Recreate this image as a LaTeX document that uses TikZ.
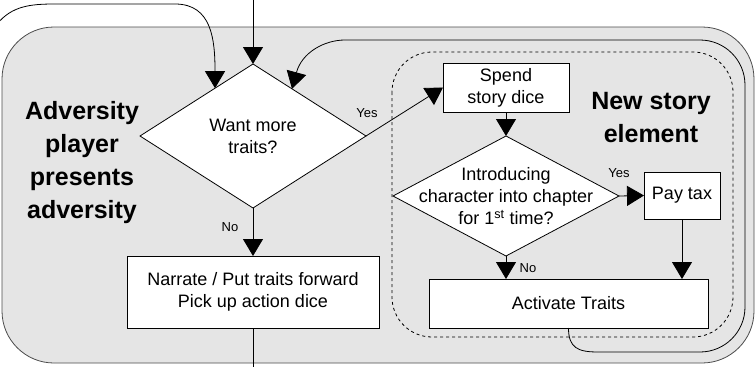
\documentclass[tikz,border=0pt]{standalone}
\usepackage{fontspec}
\setmainfont{Liberation Sans}
\usetikzlibrary{shapes.geometric,arrows.meta,calc}
\tikzset{
  flowbox/.style={draw,fill=white,inner sep=0pt,outer sep=0pt,align=center,font=\fontsize{18}{22}\selectfont},
  decision/.style={draw,fill=white,diamond,inner sep=0pt,outer sep=0pt},
  decisiontext/.style={align=center,font=\fontsize{18}{22}\selectfont},
  flowarrow/.style={-{Triangle[width=20pt,length=17pt]}},
  answer/.style={font=\fontsize{13}{15}\selectfont},
  heading/.style={align=center,font=\fontsize{25}{33}\selectfont\bfseries}
}
\begin{document}
\begin{tikzpicture}[x=1pt,y=-1pt,line width=0.8pt]
\useasboundingbox (0,0) rectangle (756,367);
% grey area and dashed story element area
\draw[fill=gray!20,draw=black!70,rounded corners=52pt] (2,27) rectangle (754,363);
\draw[dashed,rounded corners=40pt] (392,52) rectangle (733,337);
% loose ends
\coordinate (entry) at (253,0);
\coordinate (exit) at (253,367);
\coordinate (leftin) at (-3,24);
% steps
\node[decision,minimum width=226pt,minimum height=144pt,
  label={[decisiontext]center:Want more\\traits?}] (want) at (253,136) {};
\node[flowbox,minimum width=252pt,minimum height=72pt] (narrate) at (253,292)
  {Narrate / Put traits forward\\Pick up action dice};
\node[flowbox,minimum width=126pt,minimum height=49pt] (spend) at (506,87.5)
  {Spend\\story dice};
\node[decision,minimum width=226pt,minimum height=120pt,
  label={[decisiontext]center:Introducing\\character into chapter\\for 1\textsuperscript{st} time?}] (intro) at (506,196) {};
\node[flowbox,minimum width=76pt,minimum height=47pt] (tax) at (682,195.5) {Pay tax};
\node[flowbox,minimum width=279pt,minimum height=49pt] (activate) at (568.5,303.5) {Activate Traits};
% headings
\node[heading] (adversity) at (82,163) {Adversity\\player\\presents\\adversity};
\node[heading] (newstory) at (651,118) {New story\\element};
% answers
\node[answer] (yesmore) at (367,113) {Yes};
\node[answer] (nomore) at (230,227) {No};
\node[answer] (yesintro) at (619,173) {Yes};
\node[answer] (nointro) at (528,268) {No};
% connectors
\draw[flowarrow] (entry) -- (want.north);
\draw[flowarrow] (leftin) .. controls (12,6) and (30,4) .. (55,4) -- (175,4)
  .. controls (212,4) and (215,40) .. ($(want.north)!0.336!(want.west)$);
\draw[flowarrow] (want.east) -- (spend.west);
\draw[flowarrow] (want.south) -- (narrate.north);
\draw (narrate.south) -- (exit);
\draw[flowarrow] (spend.south) -- (intro.north);
\draw[flowarrow] (intro.east) -- (tax.west);
\draw[flowarrow] (intro.south) -- (intro.south |- activate.north);
\draw[flowarrow] (tax.south) -- (tax.south |- activate.north);
\draw[flowarrow] (activate.south) .. controls (568.5,348) and (578,352) .. (598,352)
  [rounded corners=45pt] -- (745,352) -- (745,40) -- (390,40) [sharp corners]
  .. controls (325,40) and (302,52) .. ($(want.north)!0.345!(want.east)$);
\end{tikzpicture}
\end{document}
